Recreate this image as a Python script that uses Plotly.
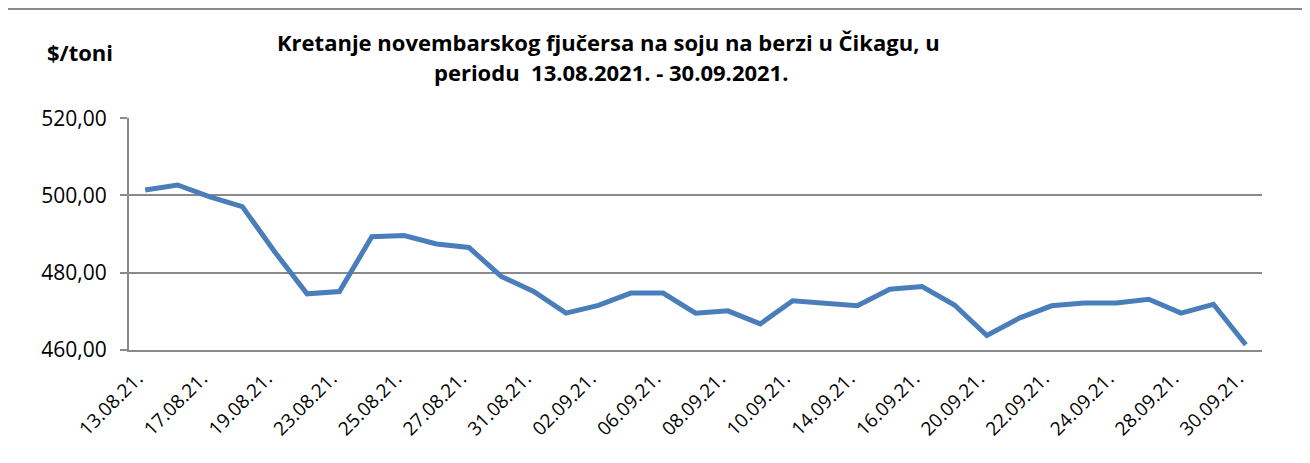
import plotly.graph_objects as go

dates = ["13.08.21.", "16.08.21.", "17.08.21.", "18.08.21.", "19.08.21.", "20.08.21.",
         "23.08.21.", "24.08.21.", "25.08.21.", "26.08.21.", "27.08.21.", "30.08.21.",
         "31.08.21.", "01.09.21.", "02.09.21.", "03.09.21.", "06.09.21.", "07.09.21.",
         "08.09.21.", "09.09.21.", "10.09.21.", "13.09.21.", "14.09.21.", "15.09.21.",
         "16.09.21.", "17.09.21.", "20.09.21.", "21.09.21.", "22.09.21.", "23.09.21.",
         "24.09.21.", "27.09.21.", "28.09.21.", "29.09.21.", "30.09.21."]
prices = [501.4, 502.7, 499.6, 497.1, 485.4, 474.5, 475.1, 489.3, 489.6, 487.4,
          486.5, 479.0, 475.1, 469.5, 471.5, 474.7, 474.7, 469.5, 470.1, 466.7,
          472.7, 472.1, 471.4, 475.7, 476.4, 471.6, 463.7, 468.2, 471.4, 472.1,
          472.1, 473.1, 469.5, 471.8, 461.3]
y_ticks = [460, 480, 500, 520]
y_tick_labels = ["460,00", "480,00", "500,00", "520,00"]
title_line1 = "Kretanje novembarskog fjučersa na soju na berzi u Čikagu, u"
title_line2 = "periodu  13.08.2021. - 30.09.2021."
unit_label = "$/toni"

font_family = "Open Sans, sans-serif"
grey = "#8a8a8a"

fig = go.Figure()
fig.add_trace(go.Scatter(
    x=list(range(len(dates))), y=prices, mode="lines",
    line=dict(color="#4a7ebb", width=5), hoverinfo="skip", showlegend=False,
))

# page has an 8px body margin; target screen coordinates are shifted accordingly
OFF = 8
W, H = 1310, 463
L = 129 - OFF
T = 118 - OFF
R = W - (1262 - OFF)
B = H - (350 - OFF)
pw, ph = W - L - R, H - T - B


def px(x):
    return (x - OFF - L) / pw


def py(y):
    return (H - B - (y - OFF)) / ph


fig.update_layout(
    width=W, height=H,
    margin=dict(l=L, r=R, t=T, b=B),
    paper_bgcolor="white", plot_bgcolor="white",
    font=dict(family=font_family, color="#000000"),
    xaxis=dict(
        range=[-0.5, len(dates) - 0.5],
        tickmode="array",
        tickvals=list(range(0, len(dates), 2)),
        ticktext=dates[::2],
        tickangle=-45,
        tickfont=dict(size=19, family=font_family),
        showgrid=False, zeroline=False, showline=True, linecolor=grey, linewidth=2,
        ticks="", automargin=False, ticklabelstandoff=8, ticklabelshift=-8,
    ),
    yaxis=dict(
        range=[459.95, 520.05],
        tickmode="array", tickvals=y_ticks, ticktext=y_tick_labels,
        tickfont=dict(size=21, family=font_family),
        showgrid=True, gridcolor=grey, gridwidth=2,
        zeroline=False, showline=True, linecolor=grey, linewidth=2,
        ticks="outside", ticklen=7, tickcolor=grey, tickwidth=2,
        ticklabelstandoff=9, automargin=False,
    ),
    shapes=[dict(type="rect", xref="paper", yref="paper",
                 x0=px(7), x1=px(1307), y0=py(480), y1=py(9),
                 line=dict(color=grey, width=2), fillcolor="rgba(0,0,0,0)",
                 layer="below")],
    annotations=[
        dict(text="<b>" + title_line1 + "</b>",
             xref="paper", yref="paper", x=px(608), y=py(42), xanchor="center", yanchor="middle",
             showarrow=False, font=dict(size=22, family=font_family)),
        dict(text="<b>" + title_line2 + "</b>",
             xref="paper", yref="paper", x=px(611), y=py(72), xanchor="center", yanchor="middle",
             showarrow=False, font=dict(size=22, family=font_family)),
        dict(text="<b>" + unit_label + "</b>", xref="paper", yref="paper", x=px(80), y=py(52),
             xanchor="center", yanchor="middle", showarrow=False,
             font=dict(size=22, family=font_family)),
    ],
)

fig.write_html("out.html")
